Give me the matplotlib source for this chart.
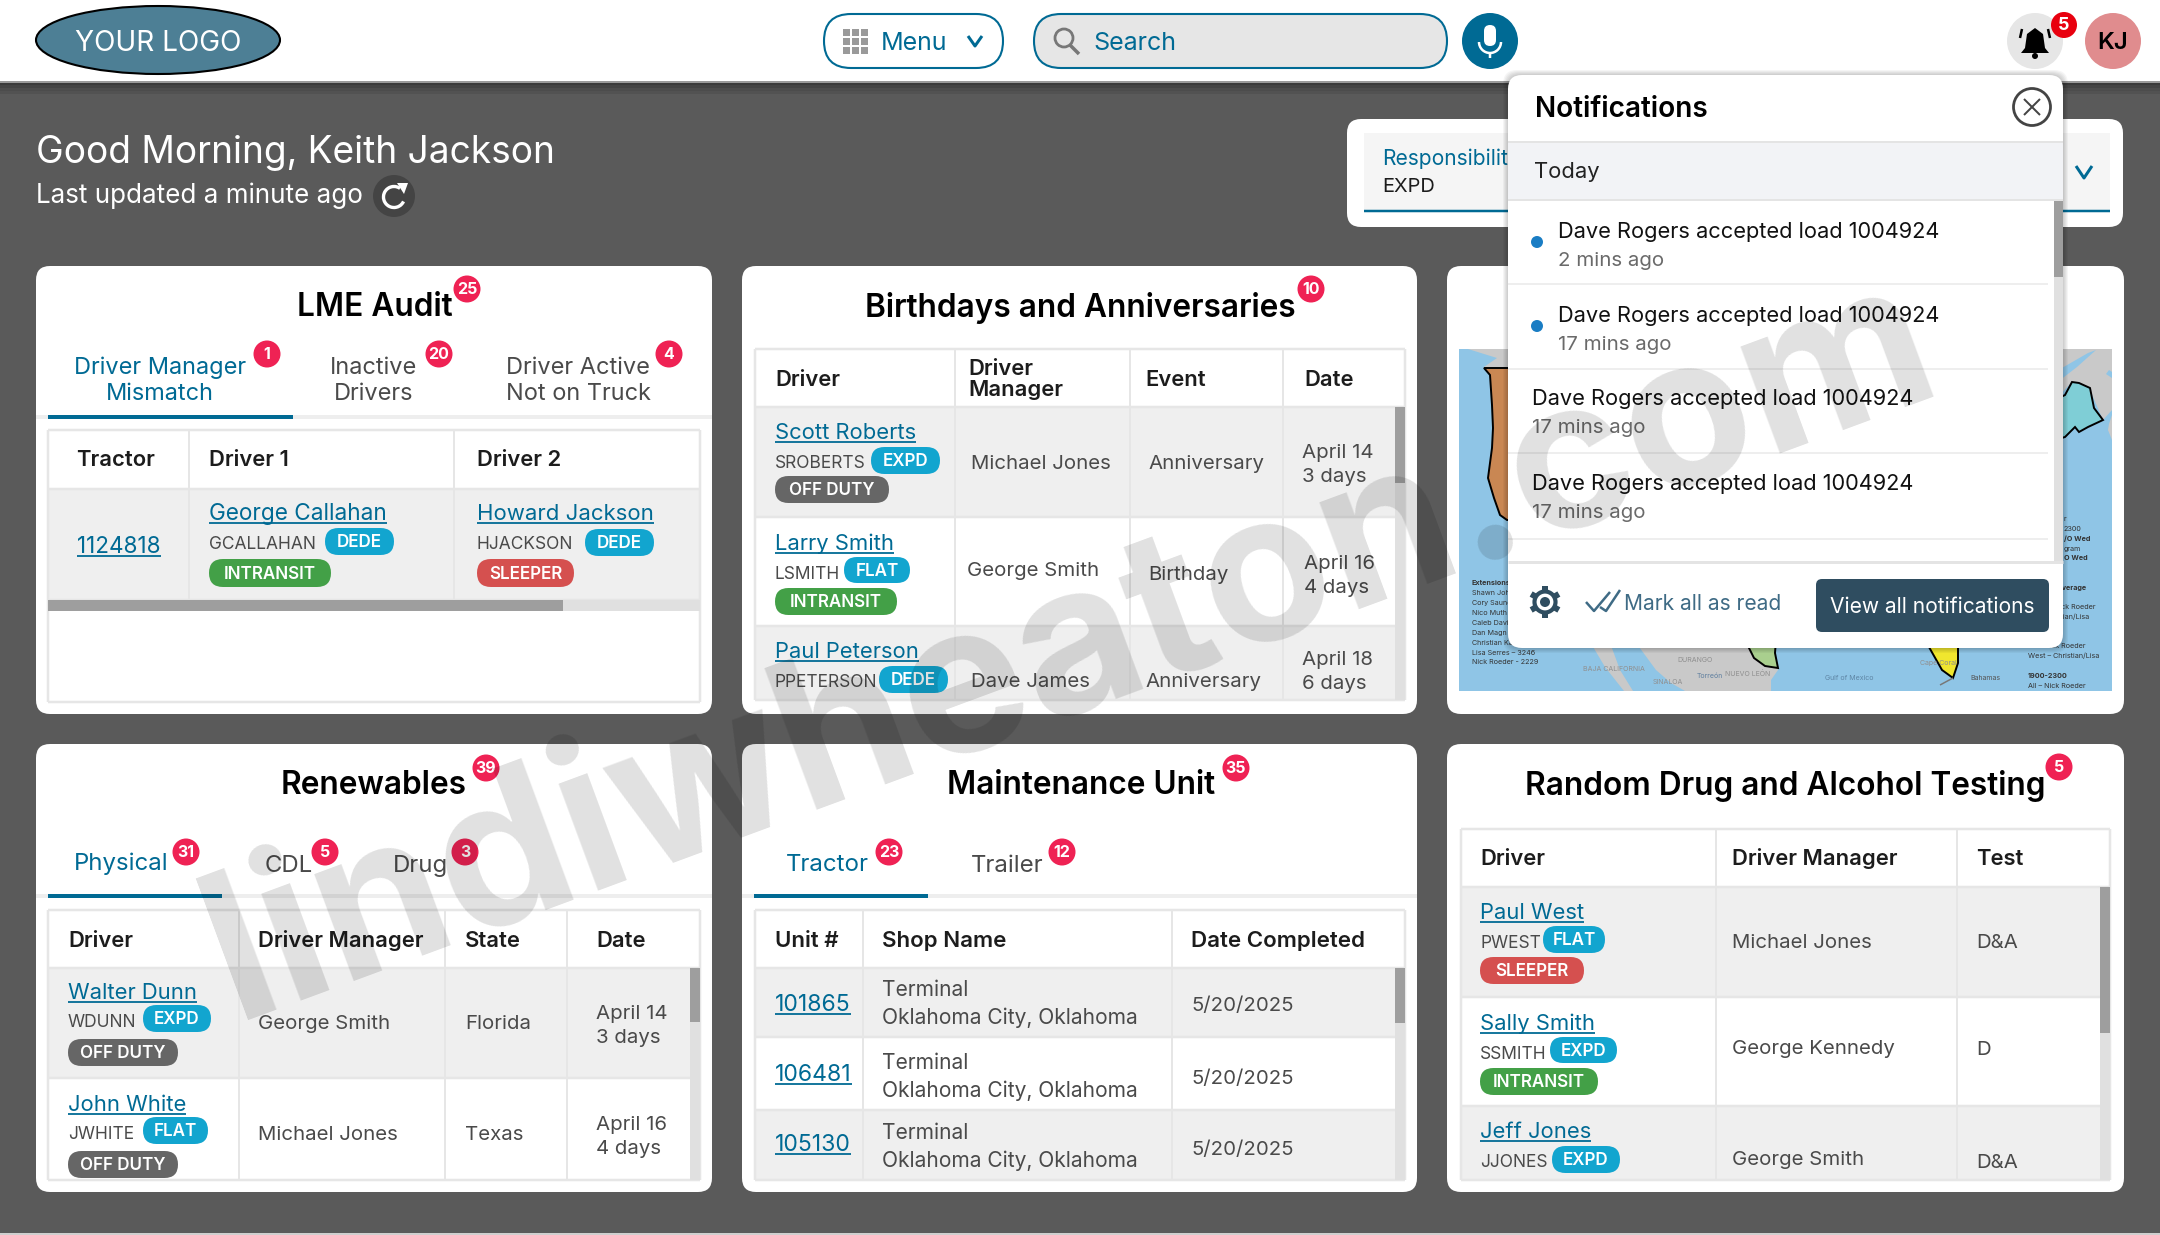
import math
import matplotlib
matplotlib.use('Agg')
import matplotlib.pyplot as plt
from matplotlib.patches import FancyBboxPatch, Rectangle, Circle, Ellipse, Polygon, Arc

plt.rcParams['font.family'] = ['Inter', 'DejaVu Sans']

# text of the page
tab_colors = {'DEDE': '#12a5cf', 'EXPD': '#12a5cf', 'FLAT': '#12a5cf',
              'INTRANSIT': '#43a047', 'SLEEPER': '#d5504f', 'OFF DUTY': '#666666'}

greeting = 'Good Morning, Keith Jackson'
updated = 'Last updated a minute ago'
notif_lines = ['Dave Rogers accepted load 1004924'] * 4
notif_ages = ['2 mins ago', '17 mins ago', '17 mins ago', '17 mins ago']

lme_tabs = ['Driver Manager\nMismatch', 'Inactive\nDrivers', 'Driver Active\nNot on Truck']
lme_tab_counts = [1, 20, 4]
lme_headers = ['Tractor', 'Driver 1', 'Driver 2']

bday_headers = ['Driver', 'Driver\nManager', 'Event', 'Date']
bday_names = ['Scott Roberts', 'Larry Smith', 'Paul Peterson']
bday_logins = ['SROBERTS', 'LSMITH', 'PPETERSON']
bday_types = ['EXPD', 'FLAT', 'DEDE']
bday_status = ['OFF DUTY', 'INTRANSIT', None]
bday_managers = ['Michael Jones', 'George Smith', 'Dave James']
bday_events = ['Anniversary', 'Birthday', 'Anniversary']
bday_dates = ['April 14', 'April 16', 'April 18']
bday_left = ['3 days', '4 days', '6 days']

renew_headers = ['Driver', 'Driver Manager', 'State', 'Date']
renew_tabs = ['Physical', 'CDL', 'Drug']
renew_tab_counts = [31, 5, 3]
renew_names = ['Walter Dunn', 'John White']
renew_logins = ['WDUNN', 'JWHITE']
renew_types = ['EXPD', 'FLAT']
renew_status = ['OFF DUTY', 'OFF DUTY']
renew_managers = ['George Smith', 'Michael Jones']
renew_states = ['Florida', 'Texas']
renew_dates = ['April 14', 'April 16']
renew_left = ['3 days', '4 days']

maint_headers = ['Unit #', 'Shop Name', 'Date Completed']
maint_tabs = ['Tractor', 'Trailer']
maint_tab_counts = [23, 12]
maint_units = ['101865', '106481', '105130']
maint_shop = 'Terminal\nOklahoma City, Oklahoma'
maint_date = '5/20/2025'

drug_headers = ['Driver', 'Driver Manager', 'Test']
drug_names = ['Paul West', 'Sally Smith', 'Jeff Jones']
drug_logins = ['PWEST', 'SSMITH', 'JJONES']
drug_types = ['FLAT', 'EXPD', 'EXPD']
drug_status = ['SLEEPER', 'INTRANSIT', None]
drug_managers = ['Michael Jones', 'George Kennedy', 'George Smith']
drug_tests = ['D&A', 'D', 'D&A']

map_left_text = ['Extensions', 'Shawn Joh', 'Cory Saund', 'Nico Muth', 'Caleb Davi',
                 'Dan Magn', 'Christian Ka', 'Lisa Serres \u2013 3246', 'Nick Roeder - 2229']
map_place_names = ['DURANGO', 'Torre\u00f3n', 'NUEVO LE\u00d3N', 'SINALOA', 'BAJA CALIFORNIA',
                   'Gulf of Mexico', 'Cape Coral', 'Bahamas']
map_right_text = ['r', '2300', '/O Wed', 'gram', 'O Wed', 'Coverage', 'Nick Roeder', 'Christian/Lisa',
                  'Nick Roeder']

TEAL = '#006a94'
BODY = '#4a4a4a'
HEAD = '#1c1c1c'
BADGE = '#ef2254'
LINE = '#e6e6e6'
ROW = '#efefef'
BAR = '#9e9e9e'
TRACK = '#e0e0e0'
LAND = '#c9c9c9'
WATER = '#8fc5e6'

W, H = 2160, 1235
fig = plt.figure(figsize=(W / 100, H / 100), dpi=100, facecolor='#5a5a5a')
ax = fig.add_axes([0, 0, 1, 1])
ax.set_xlim(0, W)
ax.set_ylim(H, 0)
ax.axis('off')
renderer = fig.canvas.get_renderer()

z = 1


def nextz():
    global z
    z += 1
    return z


def rect(x0, y0, x1, y1, color, r=0, ec='none', lw=0):
    if r:
        p = FancyBboxPatch((x0, y0), x1 - x0, y1 - y0, boxstyle=f'round,pad=0,rounding_size={r}',
                           fc=color, ec=ec, lw=lw, zorder=nextz())
    else:
        p = Rectangle((x0, y0), x1 - x0, y1 - y0, fc=color, ec=ec, lw=lw, zorder=nextz())
    ax.add_patch(p)
    return p


def line(xs, ys, color=LINE, lw=2, **kw):
    ax.plot(xs, ys, color=color, lw=lw * 0.72, zorder=nextz(), solid_capstyle='butt', **kw)


def dot(x, y, r, color, ec='none', lw=0):
    ax.add_patch(Circle((x, y), r, fc=color, ec=ec, lw=lw, zorder=nextz()))


def shape(points, color, ec='none', lw=0):
    ax.add_patch(Polygon(points, fc=color, ec=ec, lw=lw, zorder=nextz()))


def txt(x, y, s, px=19, color=BODY, weight='normal', ha='left', underline=False, **kw):
    # Poppins sits a little lower in its line box than Inter does
    t = ax.text(x, y + px * 0.1 + 1.5, s, fontsize=px * 0.72, color=color, fontweight=weight, ha=ha, va='center',
                zorder=nextz(), **kw)
    if underline:
        bb = t.get_window_extent(renderer)
        line([bb.x0, bb.x1], [y + 12.5, y + 12.5], color=color, lw=1.8)
    return t


def badge(x, y, n):
    dot(x, y, 13.5, BADGE)
    txt(x, y - 2.5, str(n), 16, 'white', 'bold', 'center')


def pill(x0, x1, y0, y1, label):
    rect(x0, y0, x1, y1, tab_colors[label], r=(y1 - y0) / 2)
    txt((x0 + x1) / 2, (y0 + y1) / 2 - 2, label, 17, 'white', 'semibold', 'center')


def card(x0, y0, x1, y1, title, title_x, title_y, badge_xy, count):
    rect(x0, y0, x1, y1, 'white', r=14)
    txt(title_x, title_y, title, 31.6, 'black', 'semibold', 'center')
    badge(badge_xy[0], badge_xy[1], count)


def table(x0, x1, y0, head, rows, seps, fills):
    # rows holds the row boundaries from the first row top to the table bottom
    bottom = rows[-1]
    rect(x0, y0, x1, bottom, 'white')
    for i, fill in enumerate(fills):
        rect(x0, rows[i], x1, rows[i + 1], fill)
    for s in seps:
        line([s, s], [y0, bottom])
    for yy in [y0, head] + rows[1:]:
        line([x0, x1], [yy, yy], lw=2.5)
    line([x0, x0], [y0, bottom], lw=2.5)
    line([x1, x1], [y0, bottom], lw=2.5)


def vscroll(x0, x1, y0, y1, thumb_end):
    rect(x0, y0, x1, y1, TRACK)
    rect(x0, y0, x1, thumb_end, BAR)


def chevron(x, y, w, h, color=TEAL, lw=3):
    line([x - w, x, x + w], [y - h, y + h, y - h], color=color, lw=lw)


# header bar
for i, a in enumerate([0.35, 0.25, 0.15, 0.08]):
    rect(0, 82 + i * 3, W, 85 + i * 3, '#000000').set_alpha(a)
rect(0, 0, W, 82, 'white')
line([0, W], [82, 82], color='#9a9a9a', lw=2)
ax.add_patch(Ellipse((158, 40), 244, 68, fc='#4d7f95', ec='black', lw=1.5, zorder=nextz()))
txt(158, 39, 'YOUR LOGO', 28, 'white', 'normal', 'center')

rect(824, 14, 1003, 68, 'white', r=27, ec=TEAL, lw=1.5)
for gx in range(3):
    for gy in range(3):
        rect(843 + gx * 9, 29 + gy * 9, 850 + gx * 9, 36 + gy * 9, '#9a9a9a')
txt(881, 39, 'Menu', 25, TEAL)
chevron(975, 41, 7, 5)

rect(1034, 14, 1447, 68, '#e6e6e6', r=27, ec=TEAL, lw=1.5)
ax.add_patch(Circle((1064, 38), 9, fc='none', ec='#777777', lw=2, zorder=nextz()))
line([1070, 1079], [45, 54], color='#777777', lw=3.5)
txt(1093, 39, 'Search', 25, TEAL)
dot(1490, 41, 28, TEAL)
rect(1484, 25, 1496, 46, 'white', r=6)
ax.add_patch(Arc((1490, 42), 22, 22, theta1=0, theta2=180, ec='white', lw=1.8, zorder=nextz()))
line([1490, 1490], [53, 58], color='white', lw=2.5)

dot(2035, 41, 28, '#e6e6e6')
shape([(2035, 28), (2043, 34), (2045, 48), (2049, 53), (2021, 53), (2025, 48), (2027, 34)], 'black')
dot(2035, 56, 3, 'black')
line([2022, 2020], [29, 38], color='black', lw=2.5)
line([2048, 2050], [29, 38], color='black', lw=2.5)
dot(2064, 25, 13, '#e8000f')
txt(2064, 22.5, '5', 18, 'white', 'bold', 'center')
dot(2113, 41, 28, '#e08c8e')
txt(2113, 39, 'KJ', 24, 'black', 'semibold', 'center')

# greeting
txt(36, 148, greeting, 37.1, 'white')
txt(36, 192, updated, 26, 'white')
dot(394, 196, 21, '#444444')
ax.add_patch(Arc((394, 197), 21, 21, theta1=25, theta2=305, ec='white', lw=2.4, zorder=nextz()))
shape([(397, 183), (408, 183), (404, 194)], 'white')

# responsibility filter
rect(1347, 119, 2123, 227, 'white', r=14)
rect(1364, 133, 2110, 211, '#f5f5f5')
line([1364, 2110], [211, 211], color=TEAL, lw=2.5)
txt(1382, 155, 'Responsibility', 21, TEAL)
txt(1382, 184, 'EXPD', 20, '#1c1c1c')
chevron(2084, 172, 8, 6)

# LME Audit card
card(36, 266, 712, 714, 'LME Audit', 375, 303, (467, 289), 25)
for x, s, color in zip([160, 373.5, 578], lme_tabs, [TEAL, BODY, BODY]):
    txt(x, 377, s, 23.5, color, ha='center', linespacing=1.22, multialignment='center')
for xy, n in zip([(267, 354), (439, 354), (669, 354)], lme_tab_counts):
    badge(xy[0], xy[1], n)
line([36, 712], [417, 417], color='#eeeeee', lw=4)
line([48, 293], [417, 417], color=TEAL, lw=4)
table(48, 700, 430, 489, [489, 600], [189, 454], [ROW])
rect(48, 611, 700, 702, 'white')
line([48, 700], [702, 702], lw=2.5)
line([48, 48], [600, 702], lw=2.5)
line([700, 700], [600, 702], lw=2.5)
rect(48, 600, 700, 611, TRACK)
rect(48, 600, 563, 611, BAR)
for x, s in zip([76, 209, 477], lme_headers):
    txt(x, 456, s, 22, HEAD, 'semibold')
txt(77, 543, '1124818', 22.5, TEAL, underline=True)
txt(209, 510, 'George Callahan', 22.6, TEAL, underline=True)
txt(209, 541, 'GCALLAHAN', 17.4)
pill(325, 394, 528, 555, 'DEDE')
pill(209, 331, 559, 587, 'INTRANSIT')
txt(477, 510, 'Howard Jackson', 22.2, TEAL, underline=True)
txt(477, 541, 'HJACKSON', 17.4)
pill(585, 654, 529, 556, 'DEDE')
pill(477, 574, 559, 587, 'SLEEPER')

# Birthdays and Anniversaries card
card(742, 266, 1417, 714, 'Birthdays and Anniversaries', 1080, 303, (1311, 289), 10)
table(755, 1405, 349, 407, [407, 517, 626, 700], [954.5, 1130, 1283], [ROW, 'white', ROW])
vscroll(1395, 1405, 407, 700, 483)
for x, s in zip([775, 968, 1145, 1304], bday_headers):
    txt(x, 376, s, 22, HEAD, 'semibold', linespacing=1.05)
name_y = [429, 540, 648]
login_y = [460, 571, 679]
type_x = [(871, 940), (844, 910), (879, 948)]
type_y = [(447, 474), (557, 583), (666, 693)]
status_x = [(775, 889), (775, 897), None]
status_y = [(476, 503), (588, 615), None]
manager_xy = [(971, 460), (967, 567), (971, 678)]
event_xy = [(1148, 460), (1148, 571), (1145, 678)]
date_xy = [(1302, 449), (1304, 560), (1302, 656)]
for i in range(3):
    txt(775, name_y[i], bday_names[i], 22, TEAL, underline=True)
    txt(775, login_y[i], bday_logins[i], 17.4)
    pill(type_x[i][0], type_x[i][1], type_y[i][0], type_y[i][1], bday_types[i])
    if bday_status[i]:
        pill(status_x[i][0], status_x[i][1], status_y[i][0], status_y[i][1], bday_status[i])
    txt(manager_xy[i][0], manager_xy[i][1], bday_managers[i], 20.4)
    txt(event_xy[i][0], event_xy[i][1], bday_events[i], 20.4)
    txt(date_xy[i][0], date_xy[i][1], bday_dates[i], 20.4)
    txt(date_xy[i][0], date_xy[i][1] + 24, bday_left[i], 20.4)

# map card, mostly behind the notification panel
rect(1447, 266, 2124, 714, 'white', r=14)
rect(1459, 349, 2112, 691, WATER)
shape([(1468, 349), (1530, 349), (1530, 367), (1484, 367), (1497, 358)], LAND)
shape([(1484, 368), (1530, 368), (1530, 520), (1507, 520), (1500, 515), (1494, 498), (1488, 478), (1492, 448),
       (1493, 428), (1492, 405), (1490, 375)], '#c98753', ec='black', lw=1.4)
shape([(2055, 349), (2112, 349), (2112, 410), (2103, 420), (2090, 390), (2072, 382), (2055, 400)], LAND)
shape([(2055, 372), (2088, 353), (2096, 350), (2077, 367), (2055, 384)], WATER)
shape([(2109, 370), (2112, 372), (2112, 378), (2106, 374)], WATER)
shape([(2055, 400), (2065, 395), (2072, 382), (2079, 383), (2090, 388), (2094, 408), (2103, 420), (2088, 427),
       (2079, 432), (2075, 427), (2065, 437), (2055, 440)], '#7fced6', ec='black', lw=1.4)
shape([(2112, 415), (2112, 440), (2108, 430), (2109, 424)], LAND)
shape([(1634, 640), (1751, 640), (1775, 660), (1778, 670), (1771, 680), (1771, 691), (1685, 691), (1671, 683),
       (1656, 670)], LAND)
shape([(1589, 640), (1609, 640), (1620, 670), (1633, 691), (1624, 691), (1605, 667)], LAND)
shape([(1745, 640), (1776, 640), (1775, 653), (1778, 668), (1765, 666), (1754, 658)], '#a9cf8e', ec='black', lw=1.4)
shape([(1925, 640), (1958, 640), (1958, 663), (1953, 678), (1942, 670)], '#f0e62e', ec='black', lw=1.4)
line([1953, 1940], [678, 685], color='#777777', lw=1.5)
for i, s in enumerate(map_left_text):
    txt(1472, 581 + i * 9.9, s, 7.2, '#333333', 'bold' if i == 0 else 'normal')
for xy, s, color in zip([(1695, 658), (1710, 674), (1748, 671), (1668, 680), (1614, 667), (1849, 676), (1938, 661),
                         (1985, 676)], map_place_names,
                        ['#8f8f8f', '#5f7f9f', '#8f8f8f', '#8f8f8f', '#8f8f8f', '#5f86a6', '#8f8f8f', '#555555']):
    txt(xy[0], xy[1], s, 7, color, ha='center')
for xy, s, bold in zip([(2063, 517), (2064, 527), (2064, 537), (2064, 547), (2064, 556), (2087, 586), (2095, 605),
                        (2090, 615), (2086, 644)], map_right_text,
                       [False, False, True, False, True, True, False, False, False]):
    txt(xy[0], xy[1], s, 7.2, '#333333', 'bold' if bold else 'normal', 'right' if xy[0] > 2070 else 'left')
txt(2028, 654, 'West \u2013 Christian/Lisa', 7.2, '#333333')
txt(2028, 674, '1900-2300', 7.2, '#333333', 'bold')
txt(2028, 684, 'All \u2013 Nick Roeder', 7.2, '#333333')

# Renewables card
card(36, 744, 712, 1192, 'Renewables', 374, 781, (486, 768), 39)
for x, y, s, color in zip([74, 265, 393], [860, 862, 862], renew_tabs, [TEAL, BODY, BODY]):
    txt(x, y, s, 24, color)
for xy, n in zip([(186, 852), (325, 852), (465, 852)], renew_tab_counts):
    badge(xy[0], xy[1], n)
line([36, 712], [896, 896], color='#eeeeee', lw=4)
line([48, 222], [896, 896], color=TEAL, lw=4)
table(48, 700, 910, 968, [968, 1078, 1180], [239, 445, 567], [ROW, 'white'])
vscroll(690, 700, 968, 1180, 1022)
for x, s in zip([68, 258, 465, 596], renew_headers):
    txt(x, 937, s, 22, HEAD, 'semibold')
renew_offsets = [0, 112]
renew_type_x = [(143, 211), (143, 208)]
for i, d in enumerate(renew_offsets):
    txt(68, 989 + d, renew_names[i], 22, TEAL, underline=True)
    txt(68, 1019 + d, renew_logins[i], 17.4)
    pill(renew_type_x[i][0], renew_type_x[i][1], 1005 + d, 1032 + d, renew_types[i])
    pill(68, 178, 1039 + d, 1066 + d, renew_status[i])
    txt(258, 1020 + d - i, renew_managers[i], 20.4)
    txt(465, 1020 + d - i, renew_states[i], 20.4)
    txt(596, 1010 + d - i, renew_dates[i], 20.4)
    txt(596, 1034 + d - i, renew_left[i], 20.4)

# Maintenance Unit card
card(742, 744, 1417, 1192, 'Maintenance Unit', 1081, 781, (1236, 768), 35)
for x, y, s, color in zip([786, 971], [861, 862], maint_tabs, [TEAL, BODY]):
    txt(x, y, s, 24, color)
for xy, n in zip([(889, 852), (1062, 852)], maint_tab_counts):
    badge(xy[0], xy[1], n)
line([742, 1417], [896, 896], color='#eeeeee', lw=4)
line([754, 928], [896, 896], color=TEAL, lw=4)
table(755, 1405, 910, 968, [968, 1037, 1110, 1180], [863, 1172], [ROW, 'white', ROW])
vscroll(1395, 1405, 968, 1180, 1023)
for x, s in zip([775, 882, 1191], maint_headers):
    txt(x, 937, s, 22.3, HEAD, 'semibold')
for unit, uy, sy, dy in zip(maint_units, [1001, 1071, 1141], [1000, 1073, 1143], [1002, 1075, 1146]):
    txt(775, uy, unit, 23, TEAL, underline=True)
    txt(882, sy, maint_shop, 21, linespacing=1.45)
    txt(1191, dy, maint_date, 20.4)

# Random Drug and Alcohol Testing card
card(1447, 744, 2124, 1192, 'Random Drug and Alcohol Testing', 1785, 781, (2059, 767), 5)
table(1461, 2110, 829, 887, [887, 997, 1106, 1180], [1715.5, 1957], [ROW, 'white', ROW])
vscroll(2100, 2110, 887, 1180, 1033)
for x, s in zip([1480, 1732, 1976], drug_headers):
    txt(x, 855, s, 22, HEAD, 'semibold')
drug_name_y = [909, 1020, 1128]
drug_type_x = [(1543, 1605), (1550, 1617), (1552, 1620)]
drug_type_y = [(926, 953), (1037, 1063), (1146, 1173)]
drug_status_x = [(1480, 1584), (1480, 1598), None]
drug_status_y = [(957, 984), (1068, 1095), None]
drug_mgr_y = [939, 1045, 1156]
drug_test_y = [939, 1046, 1159]
for i in range(3):
    txt(1480, drug_name_y[i], drug_names[i], 22, TEAL, underline=True)
    txt(1480, drug_name_y[i] + 31, drug_logins[i], 17.4)
    pill(drug_type_x[i][0], drug_type_x[i][1], drug_type_y[i][0], drug_type_y[i][1], drug_types[i])
    if drug_status[i]:
        pill(drug_status_x[i][0], drug_status_x[i][1], drug_status_y[i][0], drug_status_y[i][1], drug_status[i])
    txt(1732, drug_mgr_y[i], drug_managers[i], 20.4)
    txt(1976, drug_test_y[i], drug_tests[i], 20.4)

# notifications panel sits over everything but the watermark
for i in range(5, 0, -1):
    rect(1508 - i, 75 - i, 2063 + i, 648 + i, '#000000', r=14).set_alpha(0.04)
rect(1508, 75, 2063, 648, 'white', r=14)
txt(1535, 105, 'Notifications', 28, 'black', 'semibold')
ax.add_patch(Circle((2032, 107), 18.5, fc='white', ec='#444444', lw=2, zorder=nextz()))
line([2024, 2040], [99, 115], color='#444444', lw=2)
line([2024, 2040], [115, 99], color='#444444', lw=2)
rect(1508, 142, 2063, 200, '#f2f3f6')
line([1508, 2063], [142, 142], color='#e4e4e4', lw=2)
line([1508, 2063], [200, 200], color='#e4e4e4', lw=2)
txt(1534, 168, 'Today', 22, '#222222')
vscroll(2054, 2063, 201, 562, 277)
for yy in [284, 369, 453, 539]:
    line([1508, 2048], [yy, yy], color='#eeeeee', lw=2)
for x, y0, s, age, unread in zip([1558, 1558, 1532, 1532], [228, 312, 395, 480], notif_lines, notif_ages,
                                 [True, True, False, False]):
    txt(x, y0, s, 21.8, '#111111')
    txt(x, y0 + 29, age, 20.5, '#6a6a6a')
    if unread:
        dot(1537, y0 + 14, 6, '#1a7dc4')
line([1508, 2063], [562, 562], color='#e4e4e4', lw=3)
for k in range(6):
    ang = math.radians(30 + k * 60)
    line([1545 + 11 * math.cos(ang), 1545 + 16 * math.cos(ang)], [602 + 11 * math.sin(ang), 602 + 16 * math.sin(ang)],
         color='#2f4d60', lw=6)
dot(1545, 602, 10.5, 'white', ec='#2f4d60', lw=3)
dot(1545, 602, 5, '#2f4d60')
line([1586, 1594, 1610], [602, 611, 592], color='#3f6b85', lw=2.5)
line([1600, 1606, 1620], [607, 611, 590], color='#3f6b85', lw=2.5)
txt(1624, 600, 'Mark all as read', 21, '#3f6b85')
rect(1816, 579, 2049, 632, '#2f4d60', r=6)
txt(1932, 603, 'View all notifications', 21, 'white', ha='center')

# watermark, scaled to run the length of the reference baseline
mark = ax.text(1090, 704, 'lindiwheaton.com', fontsize=150, color='black', alpha=0.12,
               fontweight='bold', ha='center', va='baseline', rotation=0, rotation_mode='anchor',
               zorder=nextz())
mark.set_fontsize(150 * 1823 / mark.get_window_extent(renderer).width)
mark.set_rotation(20.3)

# thin light strip along the lower edge
rect(0, 1233, W, 1235, '#cfcfcf')

fig.savefig('out.png', dpi=100, facecolor=fig.get_facecolor())
